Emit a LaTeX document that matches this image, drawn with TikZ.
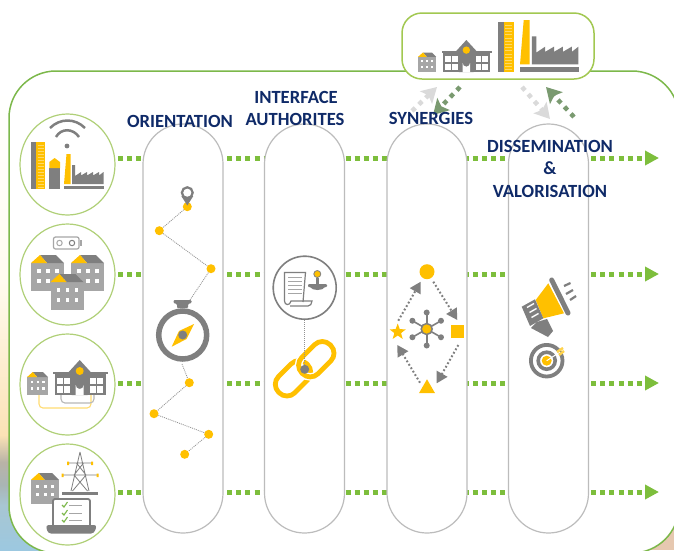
\documentclass[tikz,border=0pt]{standalone}
\usepackage{fontspec}
\setmainfont{Carlito}
\usetikzlibrary{arrows.meta,shapes.geometric}
\definecolor{frameg}{HTML}{7CB84A}
\definecolor{circg}{HTML}{B0D078}
\definecolor{boxg}{HTML}{A2C851}
\definecolor{dotg}{HTML}{7DBE3C}
\definecolor{sage}{HTML}{7A9A70}
\definecolor{pale}{HTML}{DADADA}
\definecolor{gd}{HTML}{7F7F7F}
\definecolor{gl}{HTML}{A6A6A6}
\definecolor{yel}{HTML}{FFC000}
\definecolor{navy}{HTML}{0F2A68}
\definecolor{sandA}{HTML}{FFFBEF}
\definecolor{sandB}{HTML}{FBE2B6}
\definecolor{duskA}{HTML}{B9B3A6}
\definecolor{duskB}{HTML}{A9B5B5}
\definecolor{seaA}{HTML}{A8C6D2}
\definecolor{seaB}{HTML}{9CC8E0}
\definecolor{shore}{HTML}{E6C8B0}
\tikzset{
  x=1pt,y=-1pt,
  title/.style={font=\bfseries\fontsize{18.6}{20}\selectfont,text=navy,inner sep=0pt,align=center},
  pill/.style={draw=gl!75,line width=1.2pt,fill=white,minimum width=80pt,minimum height=409pt,rounded corners=40pt,inner sep=0pt},
  disc/.style={ellipse,draw=circg,line width=1.2pt,fill=white,minimum width=95pt,minimum height=101pt,inner sep=0pt},
  flow/.style={draw=dotg,line width=5pt,dash pattern=on 5pt off 4.1pt,shorten <=3pt,
     -{Triangle[length=14pt,width=14pt,fill=dotg]}},
  paledots/.style={draw=pale,line width=4.5pt,dash pattern=on 4.5pt off 5pt,-{Stealth[length=15pt,width=17pt,inset=3pt,fill=pale]}},
  sagedots/.style={draw=sage,line width=4.5pt,dash pattern=on 4.5pt off 5pt,-{Stealth[length=15pt,width=17pt,inset=3pt,fill=sage]}},
  fine/.style={draw=gd!85,line width=.8pt,dash pattern=on 1pt off 1pt},
  ring/.style={draw=gd,line width=2pt,dash pattern=on 1.8pt off 2.2pt,-{Triangle[length=11pt,width=12pt,fill=gd]}},
  stop/.style={circle,fill=yel,minimum size=9pt,inner sep=0pt},
  apartment/.pic={
    \fill[gl] (0,8) rectangle (33,36);
    \fill[gd] (9,0) -- (25,0) -- (33,8) -- (16,8) -- cycle;
    \fill[yel] (0,8) -- (9,0) -- (16,8) -- cycle;
    \foreach \wx in {6,15,24} \foreach \wy in {14,24}
      \fill[white] (\wx,\wy) rectangle +(3.5,3.5);
  },
  school/.pic={
    \fill[gd] (0,11.5) rectangle (55,14);
    \fill[gd] (2,14) rectangle (53,35);
    \fill[gd] (27,0) -- (38,12) -- (35,12) -- (35,35) -- (19,35) -- (19,12) -- (16,12) -- cycle;
    \foreach \wx in {4,11.5,37,44.5} \foreach \wy in {17.5,26}
      \fill[white] (\wx,\wy) rectangle +(6,6.5);
    \fill[white] (23,35) -- (23,25) arc[start angle=180,end angle=0,radius=4] -- (31,35) -- cycle;
    \fill[yel] (27,11) circle[radius=4];
  },
  tower/.pic={
    \fill[gd] (0,0) rectangle (5,47);
    \fill[yel] (5,0) rectangle (14,47);
    \foreach \ly in {3,6,...,45} \draw[yel!60!white,line width=.6pt] (6.5,\ly) -- (12.5,\ly);
  },
  works/.pic={
    \fill[yel] (2.5,0) -- (6.5,0) -- (6.5,30) -- (0,30) -- cycle;
    \fill[gd] (8,11) -- (11,11) -- (11,22) -- (17,18) -- (17,21.5) -- (23,18) -- (23,21.5) -- (29,18) -- (29,21.5) -- (35,18) -- (35,21.5) -- (39.5,18) -- (39.5,30) -- (8,30) -- cycle;
    \fill[gd] (0,32) rectangle (40,35);
  },
}
\begin{document}
\begin{tikzpicture}
\useasboundingbox (0,0) rectangle (674,550);
\clip (0,0) rectangle (674,550);
% backdrop
\fill[white] (0,0) rectangle (674,550);
\shade[top color=white,bottom color=sandA] (0,90) rectangle (12,280);
\shade[top color=sandA,bottom color=sandB] (0,280) rectangle (12,435);
\shade[top color=sandB,bottom color=duskA] (0,435) rectangle (12,462);
\shade[top color=duskA,bottom color=duskB] (0,462) rectangle (12,485);
\shade[top color=duskB,bottom color=seaA] (0,485) rectangle (40,505);
\shade[top color=seaA,bottom color=seaB] (0,505) rectangle (40,550);
\fill[shore] (640,520) rectangle (674,550);
% frame
\node[draw=frameg,line width=1.5pt,fill=white,rounded corners=47pt,minimum width=670pt,minimum height=482pt,inner sep=0pt] (frame) at (344,312) {};
% connector ends
\coordinate (e1) at (659,158);
\coordinate (e2) at (659,274);
\coordinate (e3) at (659,383);
\coordinate (e4) at (659,492);
% discs
\node[disc] (c1) at (67.5,164.5) {};
\node[disc] (c2) at (67.5,274.5) {};
\node[disc] (c3) at (67.5,384.5) {};
\node[disc] (c4) at (67.5,494.5) {};
\coordinate (s1) at (115,158);
\coordinate (s2) at (115,274);
\coordinate (s3) at (115,383);
\coordinate (s4) at (115,492);
\draw[flow] (s1) -- (e1);
\draw[flow] (s2) -- (e2);
\draw[flow] (s3) -- (e3);
\draw[flow] (s4) -- (e4);
% pills
\node[pill] (p1) at (183,328.5) {};
\node[pill] (p2) at (304.5,328.5) {};
\node[pill] (p3) at (427,328.5) {};
\node[pill] (p4) at (548.5,328.5) {};
% disc 1
\pic at (31,142) {tower};
\fill[gd] (49.3,168) -- (49.3,189) -- (60,189) -- (60,168) -- cycle;
\fill[yel] (49.3,168) -- (49.3,162) -- (54.6,158) -- (60,162) -- (60,168) -- cycle;
\pic at (64,154) {works};
\fill[gd] (67,146) circle[radius=2.4];
\draw[gd,line width=2.5pt] (56,137) .. controls (61,128) and (73,128) .. (79,137);
\draw[gd,line width=2.5pt] (50,128) .. controls (60,118) and (75,118) .. (85,128);
% disc 2
\draw[gl,line width=1.2pt,rounded corners=2pt] (53.5,237) rectangle (79,249);
\fill[gl] (79.5,240) rectangle (81.5,246);
\draw[gl,line width=1pt] (59.5,243) circle[radius=2.7];
\draw[gd,line width=1pt] (72,243) circle[radius=2.7];
\pic at (31,255) {apartment};
\pic at (71,255) {apartment};
\pic at (50.5,274) {apartment};
% disc 3
\draw[yel!55!white,line width=1.1pt,rounded corners=4pt] (39,395) -- (39,408) -- (91,408) -- (91,395);
\draw[gl!80,line width=1.1pt,rounded corners=4pt] (61,395) -- (61,403) -- (94,403) -- (94,395);
\pic[scale=.64] at (27,372) {apartment};
\pic at (52.7,360) {school};
% disc 4
\pic[scale=.85] at (31,473) {apartment};
\draw[gd,line width=.8pt] (80,452) -- (71,491) (80,452) -- (89,491)
  (68,463) -- (92,463) (62,475) -- (98,475) (76.5,463) -- (86,475) (83.5,463) -- (74,475) (74,475) -- (87.5,491) (86,475) -- (72.5,491);
\fill[gd] (62,491.5) rectangle (98,494.5);
\fill[yel] (67,461.5) rectangle (69,465) (91,461.5) rectangle (93,465) (61.5,473.5) rectangle (63.5,477) (96.5,473.5) rectangle (98.5,477);
\draw[gd,line width=1.8pt,fill=white,rounded corners=2pt] (53,525) -- (53,499) -- (90,499) -- (90,525);
\fill[gd,rounded corners=3pt] (45.7,525) -- (97,525) -- (94,533.5) -- (48,533.5) -- cycle;
\foreach \cy in {505,513,520}{
  \draw[frameg,line width=1.1pt] (62,\cy) -- (64,\cy+2) -- (67.5,\cy-3);
  \draw[gl,line width=1pt] (69,\cy) -- (82,\cy);
}
% top box
\node[draw=boxg,line width=1.5pt,fill=white,rounded corners=20pt,minimum width=192pt,minimum height=66pt,inner sep=0pt] (top) at (498,46) {};
\pic[scale=.55] at (418,52.5) {apartment};
\pic[scale=.92] at (441.5,40) {school};
\pic[xscale=1.14,yscale=1.06] at (498,22) {tower};
\pic[scale=1.48] at (520,20) {works};
% top arrows
\coordinate (a1) at (412,111);
\coordinate (a2) at (460,87);
\coordinate (a3) at (522,87);
\coordinate (a4) at (574,117);
\coordinate (t1) at (437,87);
\coordinate (t2) at (433,115);
\coordinate (t3) at (550,119);
\coordinate (t4) at (546,87);
\draw[paledots] (a1) -- (t1);
\draw[sagedots] (a2) -- (t2);
\draw[paledots] (a3) -- (t3);
\draw[sagedots] (a4) -- (t4);
% orientation route
\node[stop] (o1) at (187.3,206.7) {};
\node[stop] (o2) at (159.3,230.7) {};
\node[stop] (o3) at (211,268.7) {};
\node[stop] (o4) at (189.3,382.7) {};
\node[stop] (o5) at (154,413.7) {};
\node[stop] (o6) at (208.7,434.3) {};
\node[stop] (o7) at (184.7,454.3) {};
\coordinate (cc) at (182.7,335);
\draw[fine] (o1) -- (o2) -- (o3) -- (190,300);
\draw[fine] (182,364) -- (o4) -- (o5) -- (o6) -- (o7);
\draw[gd,line width=2.6pt] (187.3,192.7) circle[radius=5.2];
\fill[gd] (181.3,196) -- (193.3,196) -- (187.3,205.5) -- cycle;
\fill[white] (187.3,192.7) circle[radius=4];
\fill[gd,rounded corners=1pt] (173.5,300) -- (191.5,300) -- (191.5,303) -- (188,304) -- (188,308) -- (177,308) -- (177,304) -- (173.5,303) -- cycle;
\draw[gd,line width=5.5pt,fill=white] (cc) circle[radius=24];
\fill[yel] (171.7,346.7) -- (179,331) -- (194,324) -- (186.5,339) -- cycle;
\fill[gd] (cc) circle[radius=4.5];
% authorities
\node[draw=gd,line width=1.6pt,fill=white,circle,minimum size=63pt,inner sep=0pt] (seal) at (304.7,287.7) {};
\draw[gd,line width=1.2pt,fill=white] (303,302) -- (305.5,272.5) -- (284.5,272.5) -- (284.5,301) .. controls (284.5,305.5) and (290,306) .. (291,301) -- (312,301) .. controls (312,304) and (310,306) .. (308,306) -- (290,306);
\foreach \ly in {277,281,285,289,293} \draw[gl,line width=.9pt] (288,\ly) -- (302,\ly);
\fill[gd,rounded corners=1pt] (308,284) rectangle (327,287);
\fill[gd] (310,287) .. controls (312,291) and (323,291) .. (325,287) -- cycle;
\fill[gd] (315.5,278) rectangle (319,284);
\fill[yel,draw=gd,line width=.8pt] (317.3,274) circle[radius=3.5];
\coordinate (joint) at (304.7,369.3);
\begin{scope}[shift={(293,378.3)},rotate=45]
  \draw[yel,line width=4.8pt,rounded corners=11pt] (-20,-11.5) rectangle (20,11.5);
\end{scope}
\begin{scope}[shift={(316.3,359.2)},rotate=45]
  \draw[white,line width=7.5pt,rounded corners=11pt] (-20,-11.5) rectangle (20,11.5);
  \draw[yel,line width=4.8pt,rounded corners=11pt] (-20,-11.5) rectangle (20,11.5);
\end{scope}
\draw[fine] (seal.south) -- (joint);
\fill[gd] (joint) circle[radius=4.5];
% synergies
\node[circle,fill=yel,minimum size=15pt,inner sep=0pt] (sa) at (427,271.7) {};
\node[fill=yel,minimum size=13.5pt,inner sep=0pt] (sb) at (457.3,331.5) {};
\node[star,star points=5,star point ratio=2.4,fill=yel,minimum size=17pt,inner sep=0pt] (sc) at (397.7,332) {};
\node[regular polygon,regular polygon sides=3,fill=yel,minimum size=18.5pt,inner sep=0pt] (sd) at (427,388.5) {};
\draw[ring] (433.3,281.7) -- (457.3,320);
\draw[ring] (458.3,345) -- (436.7,383.3);
\draw[ring] (420,382.7) -- (397.3,345);
\draw[ring] (398.3,320.7) -- (420.7,281.7);
\coordinate (hub) at (426.7,329);
\foreach \ang in {30,90,150,210,270,330}{
  \draw[gd,line width=1.6pt] (hub) -- ++(\ang:16.5);
  \fill[gd] (hub) ++(\ang:16.5) circle[radius=3];
}
\fill[yel,draw=gd,line width=1.5pt] (hub) circle[radius=5.5];
% megaphone
\fill[yel] (548.3,283.3) -- (564,313.3) -- (543.3,318.3) -- (535.7,300) -- cycle;
\draw[gd,line width=5pt,line cap=round] (551.7,280) -- (568,313);
\fill[gd] (521.7,306.7) -- (535,299.3) -- (543.3,318.3) -- (530,326) -- cycle;
\draw[white,line width=1.4pt] (527,307.5) -- (534,303.5) (529.5,312.5) -- (536.5,308.5) (531.5,317.5) -- (538.5,313.5);
\fill[gd] (536.7,322) -- (547,319) -- (553,331) -- (548,337) -- (531,328) -- cycle;
\draw[gd,line width=2.2pt] (564,286) -- (570.5,283) (566,294) -- (573,290) (570,300) -- (576,296);
% target
\coordinate (goal) at (546.7,360.7);
\draw[gd,line width=3.8pt] (goal) circle[radius=15.8];
\draw[gd,line width=3.6pt] (goal) circle[radius=8.5];
\fill[yel] (goal) circle[radius=5];
\draw[white,line width=1pt] (goal) -- (560,352);
\draw[yel!70!white,line width=2.4pt] (557,352) -- (563,348) (559,355) -- (564,351);
% titles
\node[title] (tA) at (180,121) {ORIENTATION};
\node[title] (tB) at (296,97) {INTERFACE};
\node[title] (tC) at (295,119) {AUTHORITES};
\node[title] (tD) at (431,118) {SYNERGIES};
\node[title] (tE) at (550,146) {DISSEMINATION};
\node[title] (tF) at (550,168) {\&};
\node[title] (tG) at (550,191) {VALORISATION};
\end{tikzpicture}
\end{document}
